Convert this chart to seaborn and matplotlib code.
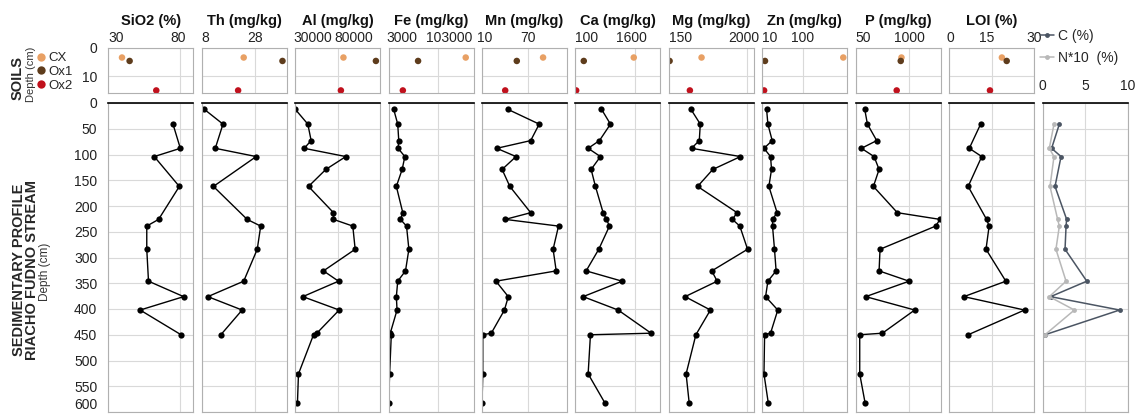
import matplotlib
matplotlib.use("Agg")
import matplotlib.pyplot as plt
import seaborn as sns
from matplotlib.lines import Line2D

sns.set_theme(style="white")
plt.rcParams["font.family"] = ["Liberation Sans", "DejaVu Sans"]

W, H = 1144, 417

# ------------------------------------------------------------------ data ----
TITLES = ["SiO2 (%)", "Th (mg/kg)", "Al (mg/kg)", "Fe (mg/kg)", "Mn (mg/kg)",
          "Ca (mg/kg)", "Mg (mg/kg)", "Zn (mg/kg)", "P (mg/kg)", "LOI (%)"]
XLIMS = [(30, 89), (8, 40), (30000, 130000), (3000, 176000), (10, 120),
         (100, 2225), (150, 2174), (10, 199), (50, 1565), (0, 30), (0, 10)]
XTICKS = [[30, 80], [8, 28], [30000, 80000], [3000, 103000], [10, 70],
          [100, 1600], [150, 2000], [10, 100], [50, 1000], [0, 15, 30], [0, 5, 10]]

# soils (top row)
SOIL_NAMES = ["CX", "Ox1", "Ox2"]
SOIL_COLORS = ["#e8a064", "#5e3c1c", "#c0101c"]
SOIL_DEPTH = [3.5, 4.7, 15]
soil_sio2 = [39.5, 44.8, 63.3]
soil_th = [23.8, 38.4, 21.7]
soil_al = [86800, 125000, 83800]
soil_fe = [160000, 63000, 32000]
soil_mn = [89, 55, 40]
soil_ca = [1558, 308, 118]
soil_mg = [928, 167, 650]
soil_zn = [190, 16, 14]
soil_p = [865, 852, 780]
soil_loi = [18.6, 20.3, 14.4]

# sedimentary profile (depth in cm)
depth_full = [12, 41, 73, 88, 104, 129, 162, 213, 226, 239, 284, 326, 346,
              376, 402, 447, 450, 526, 582]
depth_mg = [12, 41, 73, 88, 104, 129, 162, 213, 226, 239, 284, 326, 346,
            376, 402, 450, 526, 582]
depth_th = [12, 41, 88, 104, 162, 226, 239, 284, 346, 376, 402, 450]
depth_short = [41, 88, 104, 162, 226, 239, 284, 346, 376, 402, 450]

sed_sio2 = [74.9, 80.0, 61.9, 79.3, 64.9, 56.7, 56.7, 57.9, 82.3, 52.1, 80.5]
sed_th = [8.9, 16.0, 13.1, 28.5, 12.4, 25.1, 30.2, 28.9, 23.8, 10.3, 23.2, 15.2]
sed_al = [30000, 44900, 48800, 40600, 89600, 66100, 45700, 75100, 75100, 97800,
          100600, 63300, 81000, 39000, 81800, 55500, 51600, 33900, 32700]
sed_fe = [13300, 21600, 23700, 22300, 36100, 30600, 18800, 31900, 27100, 39500,
          44300, 37400, 21600, 18800, 20200, 6400, 8500, 5100, 3000]
sed_mn = [43, 84, 73, 29, 54, 36, 46, 73, 40, 109, 102, 106, 28, 44, 39, 22,
          11, 11, 10]
sed_ca = [750, 975, 700, 417, 725, 492, 600, 792, 875, 950, 683, 367, 1267,
          292, 1167, 1992, 475, 417, 833]
sed_mg = [673, 898, 874, 689, 1855, 1196, 834, 1775, 1662, 1839, 2024, 1171,
          1300, 536, 1139, 793, 560, 633]
sed_zn = [19.5, 22.4, 32, 13.7, 28.3, 30.5, 24.6, 42.9, 32.7, 32.7, 37.1, 40.7,
          22.4, 17.3, 44.4, 28.3, 15.1, 13.7, 23.2]
sed_p = [210, 258, 424, 151, 377, 466, 365, 792, 1552, 1475, 483, 466, 1000,
         228, 1101, 525, 121, 121, 216]
sed_loi = [11.1, 7.1, 11.5, 6.7, 13.2, 14.1, 13.0, 20.0, 5.2, 26.6, 6.7]
sed_c = [1.97, 1.06, 2.17, 1.46, 2.83, 2.76, 2.64, 5.2, 0.94, 9.06, 0.28]
sed_n10 = [1.34, 0.79, 1.34, 0.87, 1.77, 1.97, 1.57, 2.76, 0.79, 3.74, 0.28]

SOIL_VALUES = [soil_sio2, soil_th, soil_al, soil_fe, soil_mn, soil_ca,
               soil_mg, soil_zn, soil_p, soil_loi]
SED_SERIES = [(depth_short, sed_sio2), (depth_th, sed_th), (depth_full, sed_al),
              (depth_full, sed_fe), (depth_full, sed_mn), (depth_full, sed_ca),
              (depth_mg, sed_mg), (depth_full, sed_zn), (depth_full, sed_p),
              (depth_short, sed_loi)]

# how the top tick labels sit (Excel nudges the crowded ones)
TICK_HA = [["left", "center"], ["left", "center"], ["left", "left"],
           ["left", "center"], ["center", "center"], ["left", "center"],
           ["left", "center"], ["left", "center"], ["left", "center"],
           ["center", "center", "center"]]
TICK_DX = [[0, -2], [0, 0], [-2, -3], [-2, 11], [3, 0], [0, -4],
           [0, -3], [0, 0], [0, 0], [1, -5, 0]]

# ---------------------------------------------------------------- layout ----
fig = plt.figure(figsize=(W / 100, H / 100), dpi=100)


def px_axes(left, top, width, height):
    return fig.add_axes([left / W, 1 - (top + height) / H, width / W, height / H])


GRID = "#d9d9d9"
SPINE = "#b0b0b0"
LEFT0, STEP, PW = 108.3, 93.43, 85


def style(ax, i, soil):
    ax.set_xlim(*XLIMS[i])
    ax.set_xticks(XTICKS[i])
    ax.grid(True, color=GRID, lw=0.8)
    ax.set_axisbelow(True)
    ax.tick_params(length=0, labelsize=10, colors="#222222")
    ax.xaxis.tick_top()
    for s in ax.spines.values():
        s.set_color(SPINE)
        s.set_linewidth(0.8)
    ax.set_xlabel("")
    ax.set_ylabel("")
    if soil:
        ax.set_ylim(16, 0)
        ax.set_yticks([0, 10])
        ax.tick_params(axis="x", labeltop=False)
        for t, ha, dx in zip(XTICKS[i], TICK_HA[i], TICK_DX[i]):
            ax.annotate(f"{t}", xy=(t, 1), xycoords=("data", "axes fraction"),
                        xytext=(dx, 2), textcoords="offset pixels",
                        ha=ha, va="bottom", fontsize=10, color="#222222")
    else:
        ax.set_ylim(600, 0)
        ax.set_yticks(range(0, 601, 50))
        ax.spines["top"].set_color("black")
        ax.spines["top"].set_linewidth(1.2)
        if i < 10:
            ax.tick_params(axis="x", labeltop=False)
        else:
            ax.tick_params(axis="x", pad=7)
    if i != 0:
        ax.tick_params(axis="y", labelleft=False)
    else:
        ax.tick_params(axis="y", pad=8)
        if not soil:
            # the 600 label would run off the bottom edge
            ax.get_yticklabels()[-1].set_verticalalignment("bottom")


for i in range(11):
    left = LEFT0 + i * STEP
    if i < 10:
        ax_s = px_axes(left, 47.5, PW, 45.8)
        sns.scatterplot(x=SOIL_VALUES[i], y=SOIL_DEPTH, hue=SOIL_NAMES,
                        palette=SOIL_COLORS, s=22, edgecolor="none",
                        legend=False, ax=ax_s)
        style(ax_s, i, True)
        ax_s.annotate(TITLES[i], xy=(0.5, 1), xycoords="axes fraction",
                      xytext=(0, 19), textcoords="offset points",
                      ha="center", va="center", fontsize=10.5,
                      fontweight="bold", color="#111111")

    ax = px_axes(left, 103, PW, 309)
    if i < 10:
        d, v = SED_SERIES[i]
        sns.lineplot(x=v, y=d, sort=False, estimator=None, color="black",
                     lw=1, marker="o", markersize=4.5, markeredgewidth=0,
                     ax=ax)
    else:
        sns.lineplot(x=sed_c, y=depth_short, sort=False, estimator=None,
                     color="#4b5563", lw=1.1, marker="o", markersize=3.5,
                     markeredgewidth=0, ax=ax, label="C (%)")
        sns.lineplot(x=sed_n10, y=depth_short, sort=False, estimator=None,
                     color="#b8b8b8", lw=1.1, marker="o", markersize=3.5,
                     markeredgewidth=0, ax=ax, label="N*10  (%)")
        h, l = ax.get_legend_handles_labels()
        ax.get_legend().remove()
        fig.legend(h, l, loc="upper left", bbox_to_anchor=(1040 / W, 1 - 29 / H),
                   frameon=False, fontsize=10, handlelength=1.0,
                   handletextpad=0.3, labelspacing=0.6, borderpad=0,
                   borderaxespad=0)
    style(ax, i, False)

# left-side labels
fig.text(18 / W, 1 - 78 / H, "SOILS", rotation=90, ha="center", va="center",
         fontsize=10.5, fontweight="bold")
fig.text(31 / W, 1 - 74 / H, "Depth (cm)", rotation=90, ha="center",
         va="center", fontsize=8, color="#333333")
soil_handles = [Line2D([], [], ls="none", marker="o", markersize=6,
                       markerfacecolor=c, markeredgewidth=0) for c in SOIL_COLORS]
fig.legend(soil_handles, SOIL_NAMES, loc="upper left",
           bbox_to_anchor=(37 / W, 1 - 52 / H), frameon=False, fontsize=9.5,
           handlelength=0.6, handletextpad=0.25, labelspacing=0.12,
           borderpad=0, borderaxespad=0)

fig.text(19 / W, 1 - 270 / H, "SEDIMENTARY PROFILE", rotation=90, ha="center",
         va="center", fontsize=10.5, fontweight="bold")
fig.text(32.5 / W, 1 - 270 / H, "RIACHO FUDNO STREAM", rotation=90, ha="center",
         va="center", fontsize=10.5, fontweight="bold")
fig.text(45 / W, 1 - 272 / H, "Depth (cm)", rotation=90, ha="center",
         va="center", fontsize=8.5, color="#333333")

fig.savefig("out.png", dpi=100)
